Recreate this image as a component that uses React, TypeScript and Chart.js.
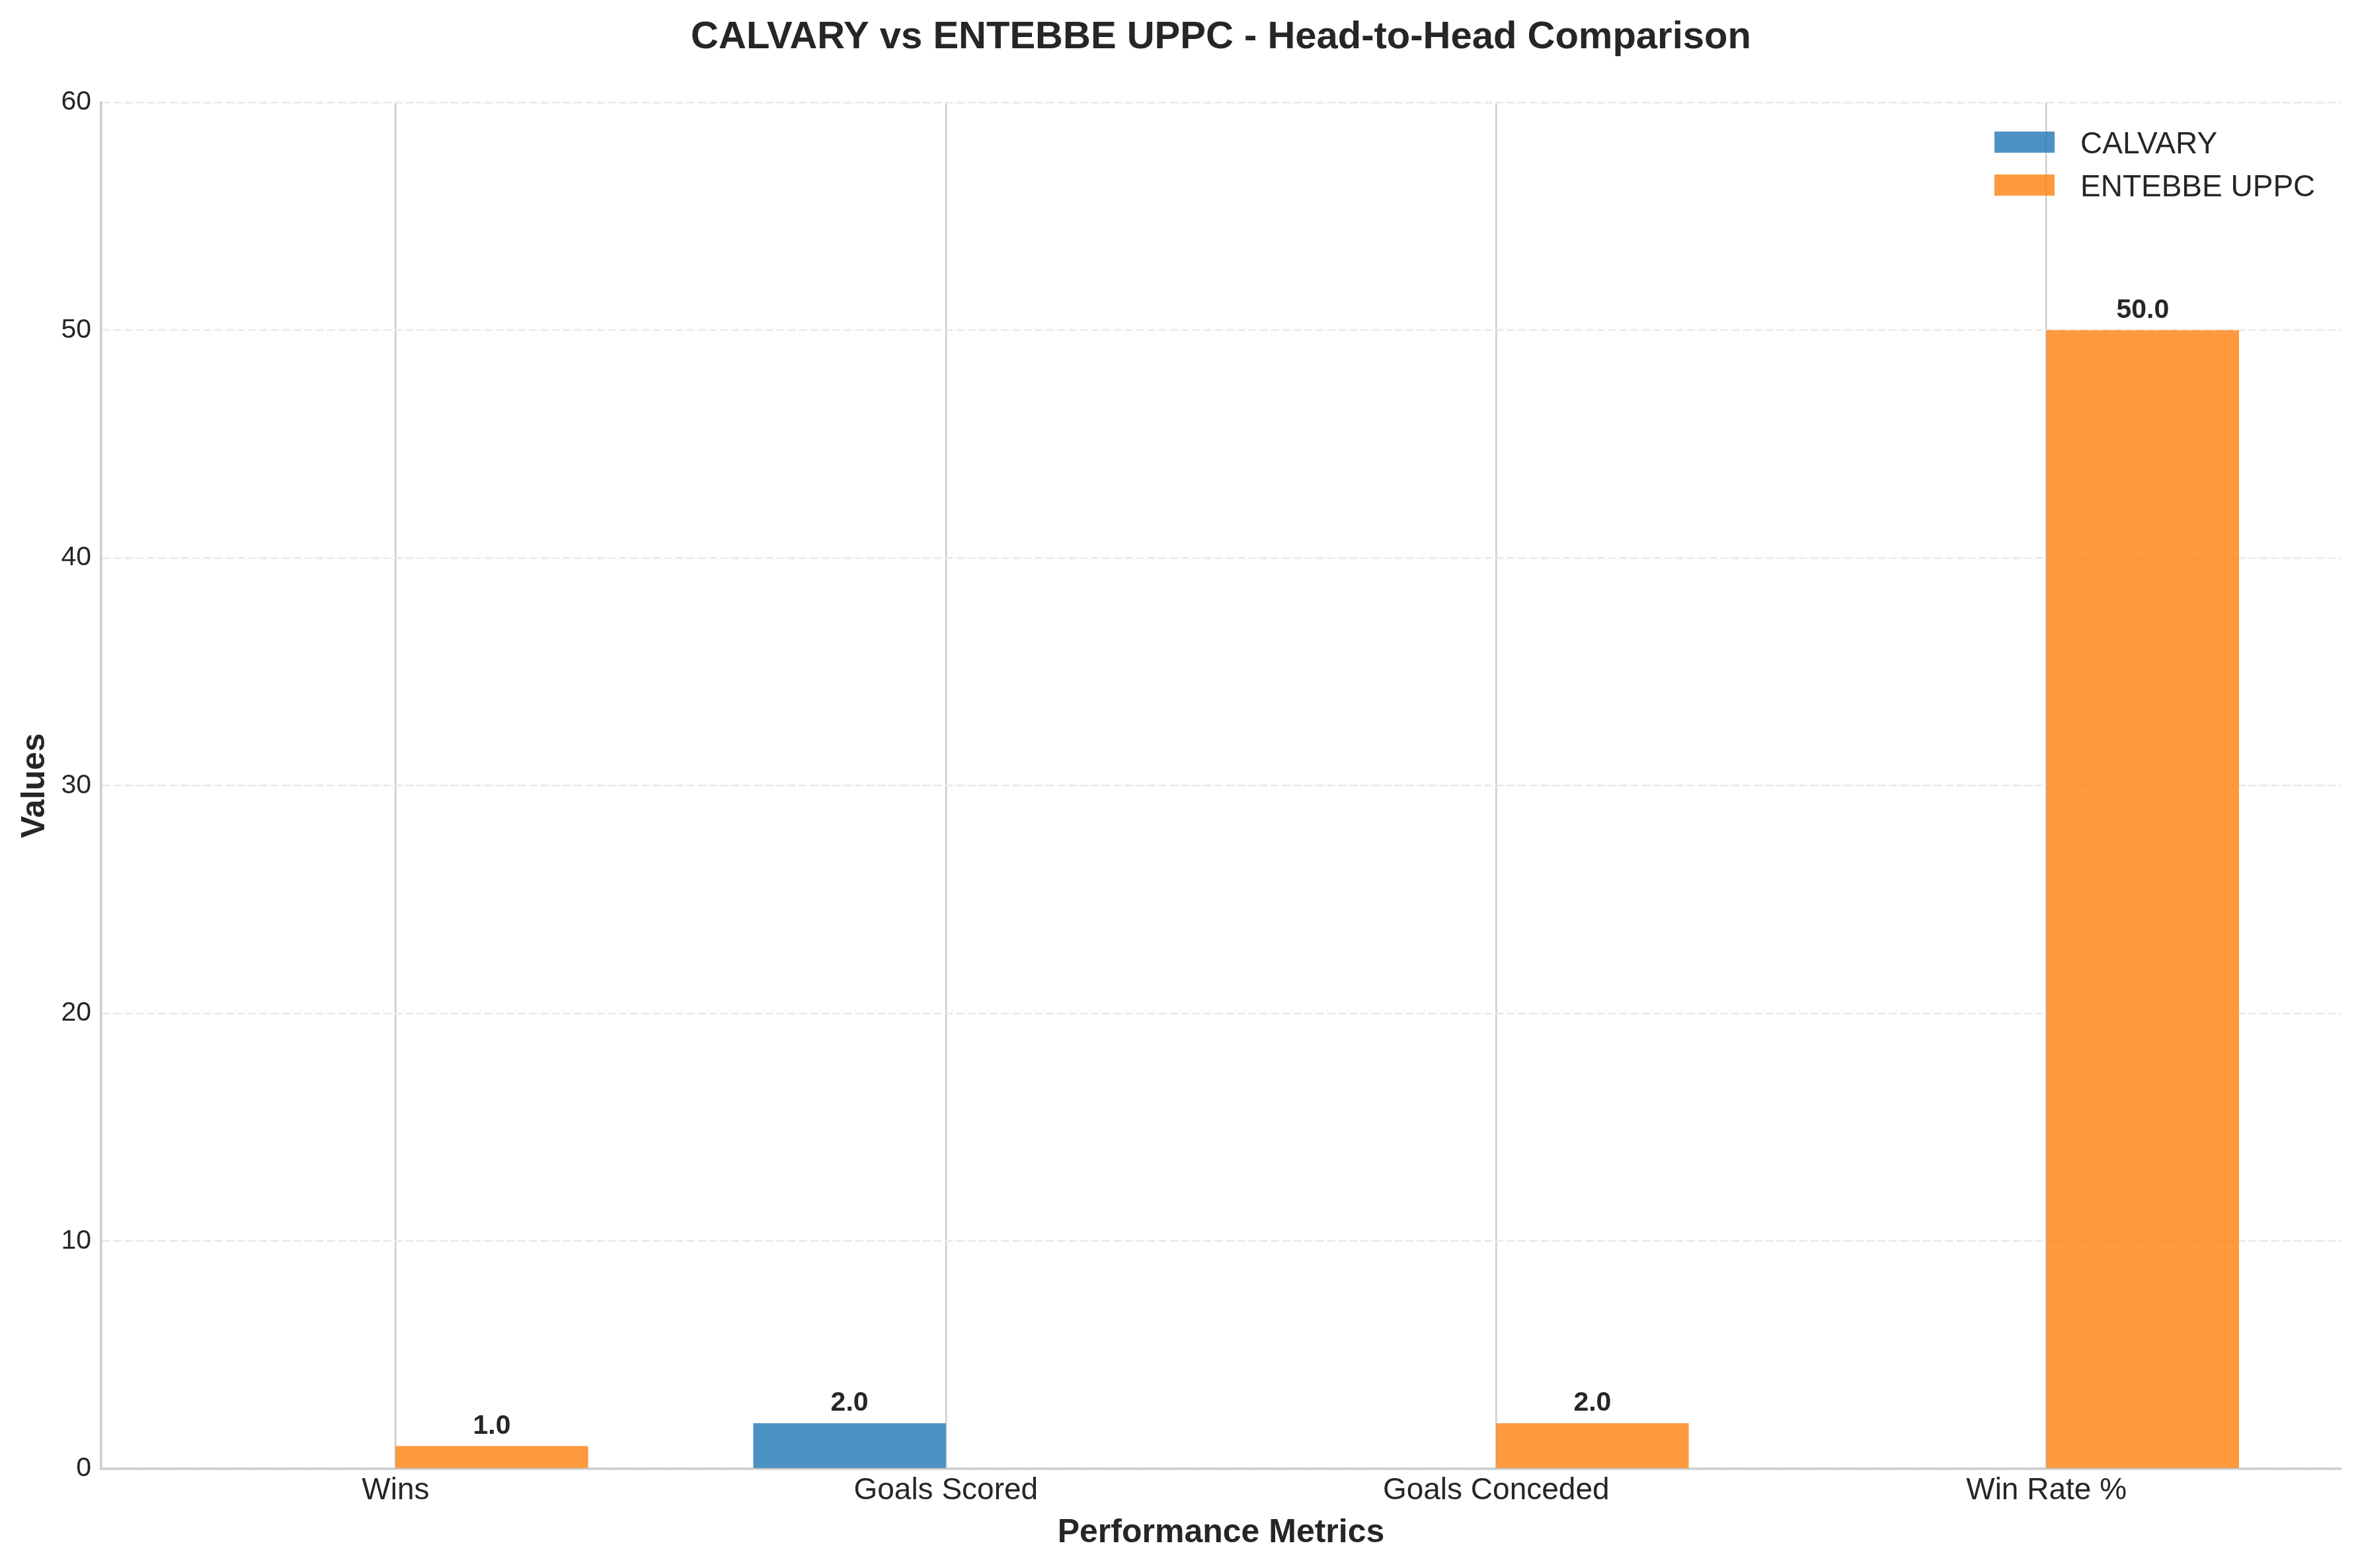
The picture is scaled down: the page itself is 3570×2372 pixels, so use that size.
import React, { useEffect, useRef } from "react";
import { Chart, registerables } from "chart.js";

Chart.register(...registerables);

const CATEGORIES = ["Wins", "Goals Scored", "Goals Conceded", "Win Rate %"];
const CALVARY = [0, 2, 0, 0];
const ENTEBBE = [1, 0, 2, 50];
const SERIES_NAMES = ["CALVARY", "ENTEBBE UPPC"];
const Y_TICKS = [0, 10, 20, 30, 40, 50, 60];
const TITLE = "CALVARY vs ENTEBBE UPPC - Head-to-Head Comparison";
const X_TITLE = "Performance Metrics";
const Y_TITLE = "Values";

const FONT = "'Liberation Sans', Arial, Helvetica, sans-serif";
const TEXT = "#262626";
const BLUE = "rgba(31,119,180,0.8)";
const ORANGE = "rgba(255,127,14,0.8)";

const valueLabels = {
  id: "valueLabels",
  afterDatasetsDraw(chart: any) {
    const ctx = chart.ctx;
    ctx.save();
    ctx.font = `bold 41px ${FONT}`;
    ctx.fillStyle = TEXT;
    ctx.textAlign = "center";
    ctx.textBaseline = "alphabetic";
    chart.data.datasets.forEach((ds: any, i: number) => {
      const meta = chart.getDatasetMeta(i);
      meta.data.forEach((bar: any, j: number) => {
        const v = ds.data[j].y;
        if (v > 0) ctx.fillText(v.toFixed(1), bar.x, bar.y - 19);
      });
    });
    ctx.restore();
  },
};

const customLegendAndTitle = {
  id: "customLegendAndTitle",
  afterDraw(chart: any) {
    const ctx = chart.ctx;
    const area = chart.chartArea;
    ctx.save();
    // title, centred on the plot area
    ctx.font = `bold 58px ${FONT}`;
    ctx.fillStyle = TEXT;
    ctx.textAlign = "center";
    ctx.textBaseline = "alphabetic";
    ctx.fillText(TITLE, (area.left + area.right) / 2, area.top - 82);
    // legend
    const sx = area.right - 524;
    const sy = area.top + 44;
    ctx.font = `46px ${FONT}`;
    ctx.textAlign = "left";
    chart.data.datasets.forEach((ds: any, i: number) => {
      const y = sy + i * 65;
      ctx.fillStyle = ds.backgroundColor;
      ctx.fillRect(sx, y, 91, 32);
      ctx.fillStyle = TEXT;
      ctx.fillText(ds.label, sx + 130, y + 16 + 16.5);
    });
    ctx.restore();
  },
};

export default function App() {
  const ref = useRef<HTMLCanvasElement>(null);

  useEffect(() => {
    if (!ref.current) return;
    const chart = new Chart(ref.current, {
      type: "bar",
      data: {
        datasets: [
          {
            label: SERIES_NAMES[0],
            data: CALVARY.map((v, i) => ({ x: i, y: v })),
            backgroundColor: BLUE,
            borderWidth: 0,
          },
          {
            label: SERIES_NAMES[1],
            data: ENTEBBE.map((v, i) => ({ x: i, y: v })),
            backgroundColor: ORANGE,
            borderWidth: 0,
          },
        ],
      },
      options: {
        animation: false,
        responsive: false,
        devicePixelRatio: 1,
        maintainAspectRatio: false,
        categoryPercentage: 0.7,
        barPercentage: 1.0,
        layout: { padding: { top: 155, left: 0, right: 29, bottom: 0 } },
        plugins: {
          legend: { display: false },
          tooltip: { enabled: false },
          title: { display: false },
        },
        scales: {
          x: {
            type: "linear",
            min: -0.535,
            max: 3.535,
            offset: false,
            afterBuildTicks: (scale: any) => {
              scale.ticks = CATEGORIES.map((_, i) => ({ value: i }));
            },
            afterFit: (scale: any) => {
              scale.height = 150;
            },
            ticks: {
              callback: (v: any) => CATEGORIES[v] ?? "",
              color: TEXT,
              font: { family: FONT, size: 46 },
              padding: 6,
              maxRotation: 0,
              autoSkip: false,
            },
            grid: {
              display: true,
              offset: false,
              color: "#cccccc",
              lineWidth: 2.5,
              drawTicks: false,
            },
            border: { display: true, color: "#cccccc", width: 3.5 },
            title: {
              display: true,
              text: X_TITLE,
              color: TEXT,
              font: { family: FONT, size: 50, weight: "bold", lineHeight: 1.2 },
              padding: { top: 0, bottom: 23 },
            },
          },
          y: {
            type: "linear",
            min: 0,
            max: 60,
            afterBuildTicks: (scale: any) => {
              scale.ticks = Y_TICKS.map((v) => ({ value: v }));
            },
            afterFit: (scale: any) => {
              scale.width = 153;
            },
            ticks: {
              color: TEXT,
              font: { family: FONT, size: 41 },
              padding: 15,
            },
            grid: {
              color: "#e9e9e9",
              lineWidth: 2.5,
              drawTicks: false,
            },
            border: { display: true, color: "#cccccc", width: 3.5, dash: [12, 5] },
            title: {
              display: true,
              text: Y_TITLE,
              color: TEXT,
              font: { family: FONT, size: 50, weight: "bold", lineHeight: 1.2 },
              padding: { top: 23, bottom: 0 },
            },
          },
        },
      } as any,
      plugins: [valueLabels, customLegendAndTitle],
    });
    return () => chart.destroy();
  }, []);

  return (
    <div style={{ position: "fixed", left: 0, top: 0, width: 3570, height: 2372, background: "#fff" }}>
      <canvas ref={ref} width={3570} height={2372} style={{ width: 3570, height: 2372, display: "block" }} />
    </div>
  );
}
